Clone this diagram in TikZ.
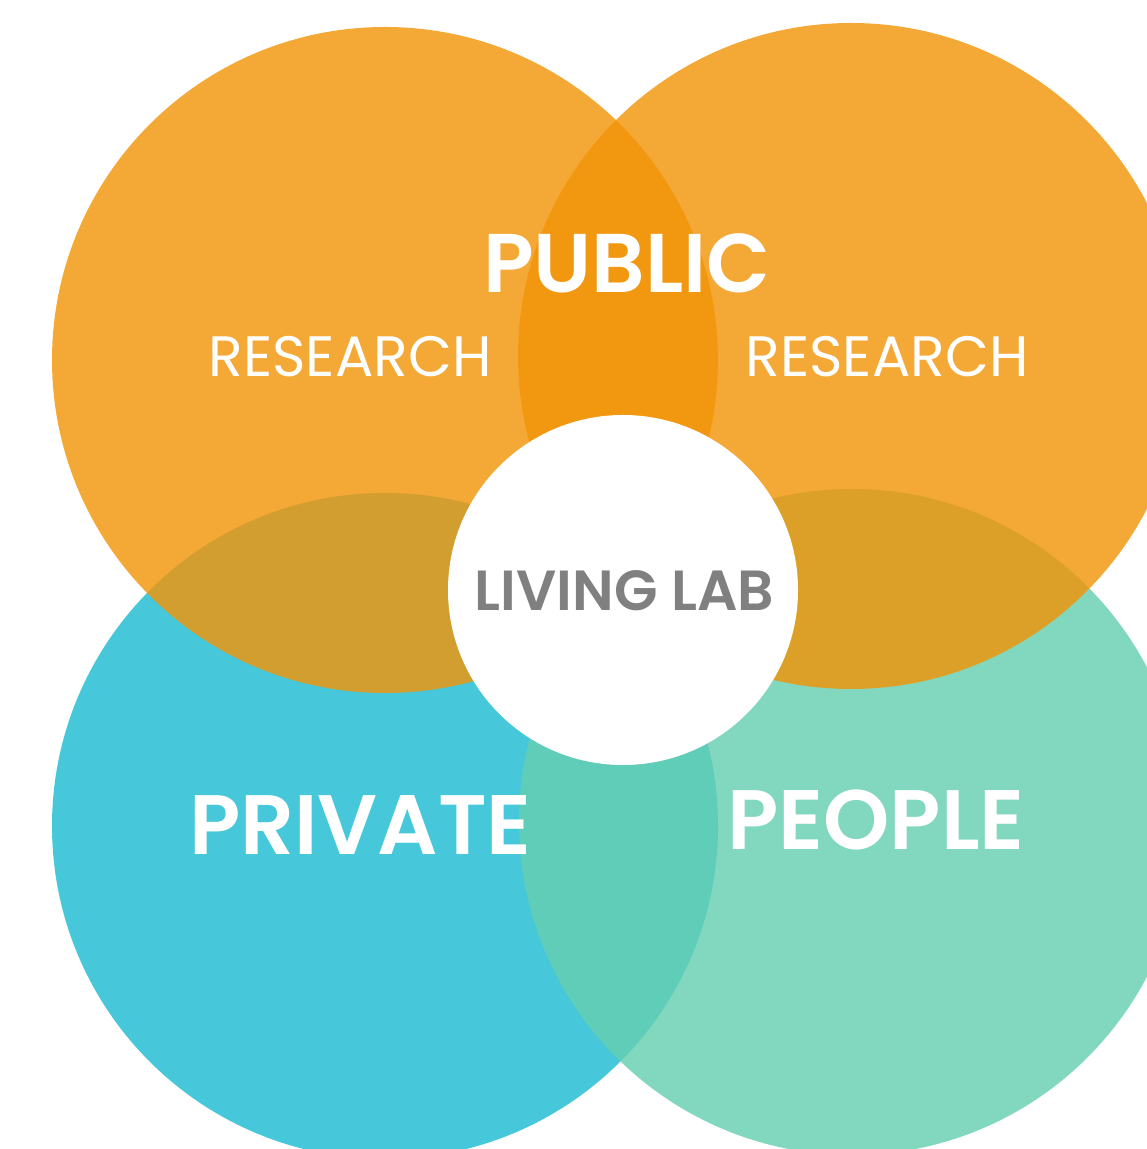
\documentclass[tikz,border=0pt]{standalone}
\usepackage{fontspec}
\setmainfont{Poppins}[BoldFont={Poppins SemiBold}]
\usepackage{tikz}
\usetikzlibrary{positioning}
\definecolor{myorange}{RGB}{242,148,7}
\definecolor{mycyan}{RGB}{27,187,210}
\definecolor{mygreen}{RGB}{101,207,175}
\definecolor{mygray}{RGB}{128,128,128}

\begin{document}
\begin{tikzpicture}[
	every node/.style={inner sep=0pt},
	blob/.style={circle,minimum size=6.66cm,fill opacity=0.81},
	pubnode/.style={blob,fill=myorange},
	privnode/.style={blob,fill=mycyan},
	peopnode/.style={blob,fill=mygreen},
	labnode/.style={circle,minimum size=3.5cm,fill=white},
	bigtext/.style={text=white,font=\fontsize{24}{28}\selectfont\bfseries},
	smalltext/.style={text=white,font=\fontsize{16.2}{20}\selectfont},
	]
	
	% the frame
	\useasboundingbox (0,0) rectangle (11.47,11.49);
	\clip (0,0) rectangle (11.47,11.49);
	
	% the lower circles
	\node[privnode] (priv) at (3.85,3.23) {};
	\node[peopnode] (peop) at (8.52,3.27) {};
	
	% the upper circles
	\node[pubnode] (pub1) at (3.85,7.89) {};
	\node[pubnode] (pub2) at (8.51,7.93) {};
	
	% the centre
	\node[labnode] (lab) at (6.23,5.59) {};
	\node[text=mygray,font=\fontsize{16.1}{20}\selectfont\bfseries] (labtext) at (6.245,5.58) {LIVING LAB};
	
	% the labels
	\node[bigtext,font=\fontsize{23.7}{28}\selectfont\bfseries] (public) at (6.27,8.86) {PUBLIC};
	\node[smalltext] (res1) at (3.50,7.92) {RESEARCH};
	\node[smalltext] (res2) at (8.87,7.92) {RESEARCH};
	\node[bigtext] (private) at (3.605,3.24) {PRIVATE};
	\node[bigtext] (people) at (8.76,3.29) {PEOPLE};
\end{tikzpicture}
\end{document}
